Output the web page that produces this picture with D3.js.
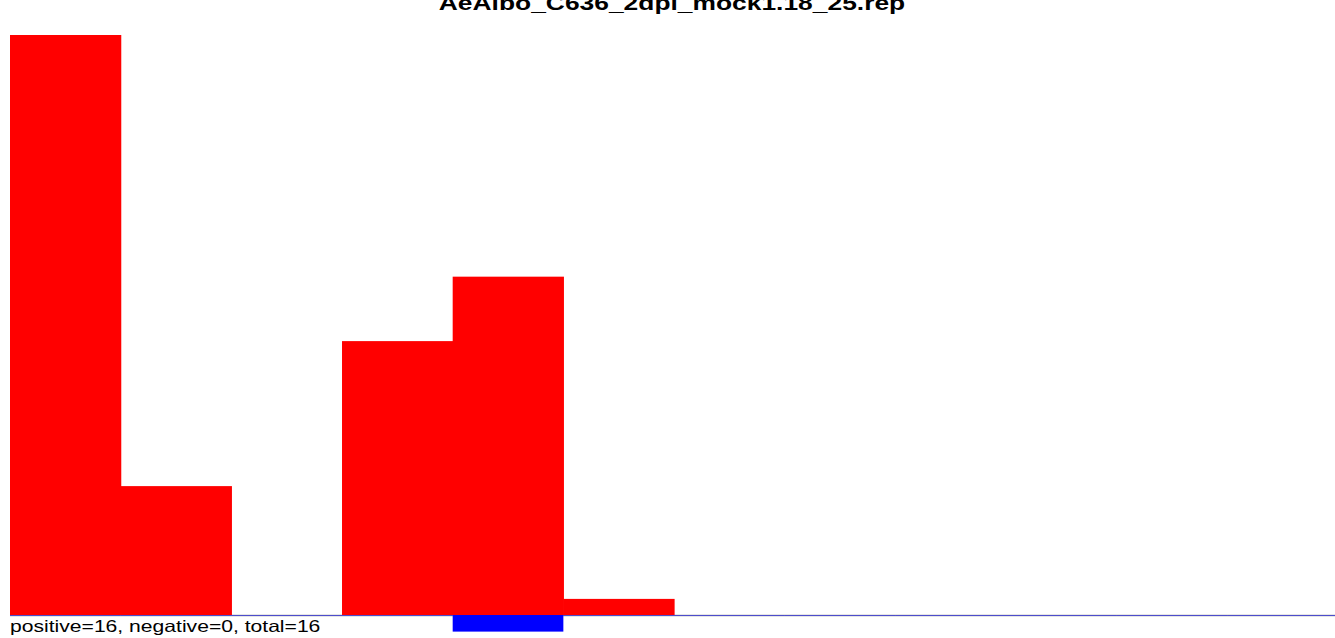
<!DOCTYPE html>
<html lang="en">
  <head>
    <meta charset="UTF-8" />
    <title>AeAlbo_C636_2dpi_mock1.18_25.rep</title>
    <script src="https://d3js.org/d3.v7.min.js" charset="utf-8"></script>
    <style>
      body { margin: 0; background: #fff; }
      text { font-family: "Liberation Sans", Arial, sans-serif; }
    </style>
  </head>
  <body>
    <svg class="chart"></svg>
    <script>
      let title = "AeAlbo_C636_2dpi_mock1.18_25.rep";
      let footer = "positive=16, negative=0, total=16";
      let bins = ["1", "2", "3", "4", "5", "6", "7", "8", "9", "10", "11", "12"];
      let positive = [36, 8, 0, 17, 21, 1, 0, 0, 0, 0, 0, 0];
      let negative = [0, 0, 0, 0, 1, 0, 0, 0, 0, 0, 0, 0];

      let width = 1335;
      let height = 638;
      let baseY = 615;

      let svg = d3.select(".chart").attr("width", width).attr("height", height);

      let x = d3.scaleBand().domain(bins).range([10, 10 + 110.67 * bins.length]).padding(0);
      let y = d3.scaleLinear().domain([0, 36]).range([0, baseY - 35]);

      svg.append("line")
        .attr("x1", 10).attr("x2", width)
        .attr("y1", baseY + 0.5).attr("y2", baseY + 0.5)
        .style("stroke", "#999").style("stroke-width", 1.5);

      svg.selectAll("rect.pos")
        .data(bins)
        .enter()
        .append("rect")
        .attr("class", "pos")
        .attr("x", d => x(d))
        .attr("width", x.bandwidth() + 0.6)
        .attr("y", (d, i) => baseY - y(positive[i]))
        .attr("height", (d, i) => y(positive[i]))
        .style("fill", "#ff0000");

      svg.selectAll("rect.neg")
        .data(bins)
        .enter()
        .append("rect")
        .attr("class", "neg")
        .attr("x", d => x(d))
        .attr("width", x.bandwidth())
        .attr("y", baseY)
        .attr("height", (d, i) => y(negative[i]) + 0.5)
        .style("fill", "#0000ff");

      // text in the reference is stretched sideways
      svg.append("text")
        .attr("transform", "translate(672,10) scale(1.32,1)")
        .attr("text-anchor", "middle")
        .style("font-size", "20px")
        .style("font-weight", "bold")
        .text(title);

      svg.append("text")
        .attr("transform", "translate(10,632) scale(1.28,1)")
        .style("font-size", "16.5px")
        .text(footer);
    </script>
  </body>
</html>
